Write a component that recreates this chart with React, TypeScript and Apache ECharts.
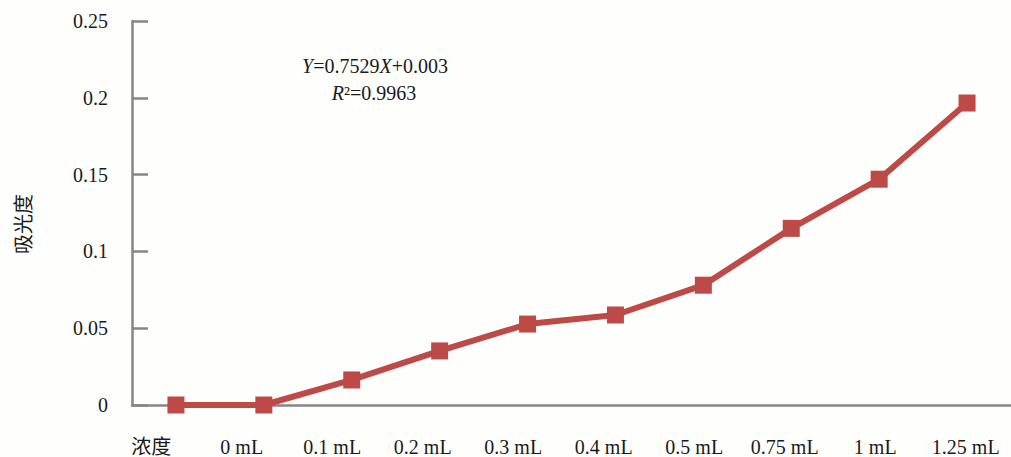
import React, { useEffect, useRef } from "react";
import * as echarts from "echarts";

const categories = ["浓度", "0 mL", "0.1 mL", "0.2 mL", "0.3 mL", "0.4 mL", "0.5 mL", "0.75 mL", "1 mL", "1.25 mL"];
const absorbance = [0, 0, 0.0163, 0.0352, 0.0527, 0.0586, 0.078, 0.115, 0.147, 0.1966];
const yAxisName = "吸光度";
const equationLine = "{i|Y}=0.7529{i|X}+0.003";
const r2Line = "{i|R}²=0.9963";

const FONT = "'Liberation Serif', 'Times New Roman', 'Noto Sans CJK SC', serif";
const RED = "#bd4a47";
const GRAY = "#868686";
const TEXT = "#1a1a1a";

export default function App() {
  const ref = useRef<HTMLDivElement>(null);
  useEffect(() => {
    document.body.style.margin = "0";
    const chart = echarts.init(ref.current!, undefined, { renderer: "svg" });
    chart.setOption({
      animation: false,
      backgroundColor: "#fefefd",
      textStyle: { fontFamily: FONT },
      grid: [
        { left: 132, right: 0, top: 21, bottom: 52 },
        { left: 106, right: -7, top: 21, bottom: 52 },
      ],
      xAxis: [
        {
          type: "category",
          gridIndex: 0,
          data: categories,
          boundaryGap: true,
          axisLine: { lineStyle: { color: GRAY, width: 2.5 } },
          axisTick: { show: false },
          axisLabel: { show: false },
          splitLine: { show: false },
        },
        {
          type: "category",
          gridIndex: 1,
          data: categories,
          boundaryGap: true,
          axisLine: { show: false },
          axisTick: { show: false },
          axisLabel: { color: TEXT, fontSize: 20, fontFamily: FONT, margin: 32 },
          splitLine: { show: false },
        },
      ],
      yAxis: [
        {
          type: "value",
          gridIndex: 0,
          min: 0,
          max: 0.25,
          interval: 0.05,
          axisLine: { show: true, lineStyle: { color: GRAY, width: 2.5 } },
          axisTick: { show: true, inside: true, length: 16, lineStyle: { color: GRAY, width: 2.5 } },
          axisLabel: { color: TEXT, fontSize: 20, fontFamily: FONT, margin: 24 },
          splitLine: { show: false },
        },
        {
          type: "value",
          gridIndex: 1,
          min: 0,
          max: 0.25,
          show: false,
        },
      ],
      series: [
        {
          type: "line",
          xAxisIndex: 0,
          yAxisIndex: 0,
          data: absorbance,
          symbol: "rect",
          symbolSize: 17,
          lineStyle: { color: RED, width: 6 },
          itemStyle: { color: RED },
        },
      ],
      graphic: [
        {
          type: "text",
          x: 22,
          y: 224,
          rotation: Math.PI / 2,
          style: {
            text: yAxisName,
            font: `20px 'Noto Sans CJK SC', sans-serif`,
            fill: TEXT,
            align: "center",
            verticalAlign: "middle",
          },
        },
        {
          type: "text",
          x: 375,
          y: 66,
          style: {
            text: equationLine,
            fontFamily: FONT,
            fontSize: 20,
            fill: TEXT,
            align: "center",
            verticalAlign: "middle",
            rich: { i: { fontStyle: "italic", fontFamily: FONT, fontSize: 20, fill: TEXT } },
          },
        },
        {
          type: "text",
          x: 374,
          y: 93,
          style: {
            text: r2Line,
            fontFamily: FONT,
            fontSize: 20,
            fill: TEXT,
            align: "center",
            verticalAlign: "middle",
            rich: { i: { fontStyle: "italic", fontFamily: FONT, fontSize: 20, fill: TEXT } },
          },
        },
      ],
    });
    return () => chart.dispose();
  }, []);
  return <div ref={ref} style={{ width: 1011, height: 457, position: "absolute", left: 0, top: 0 }} />;
}
